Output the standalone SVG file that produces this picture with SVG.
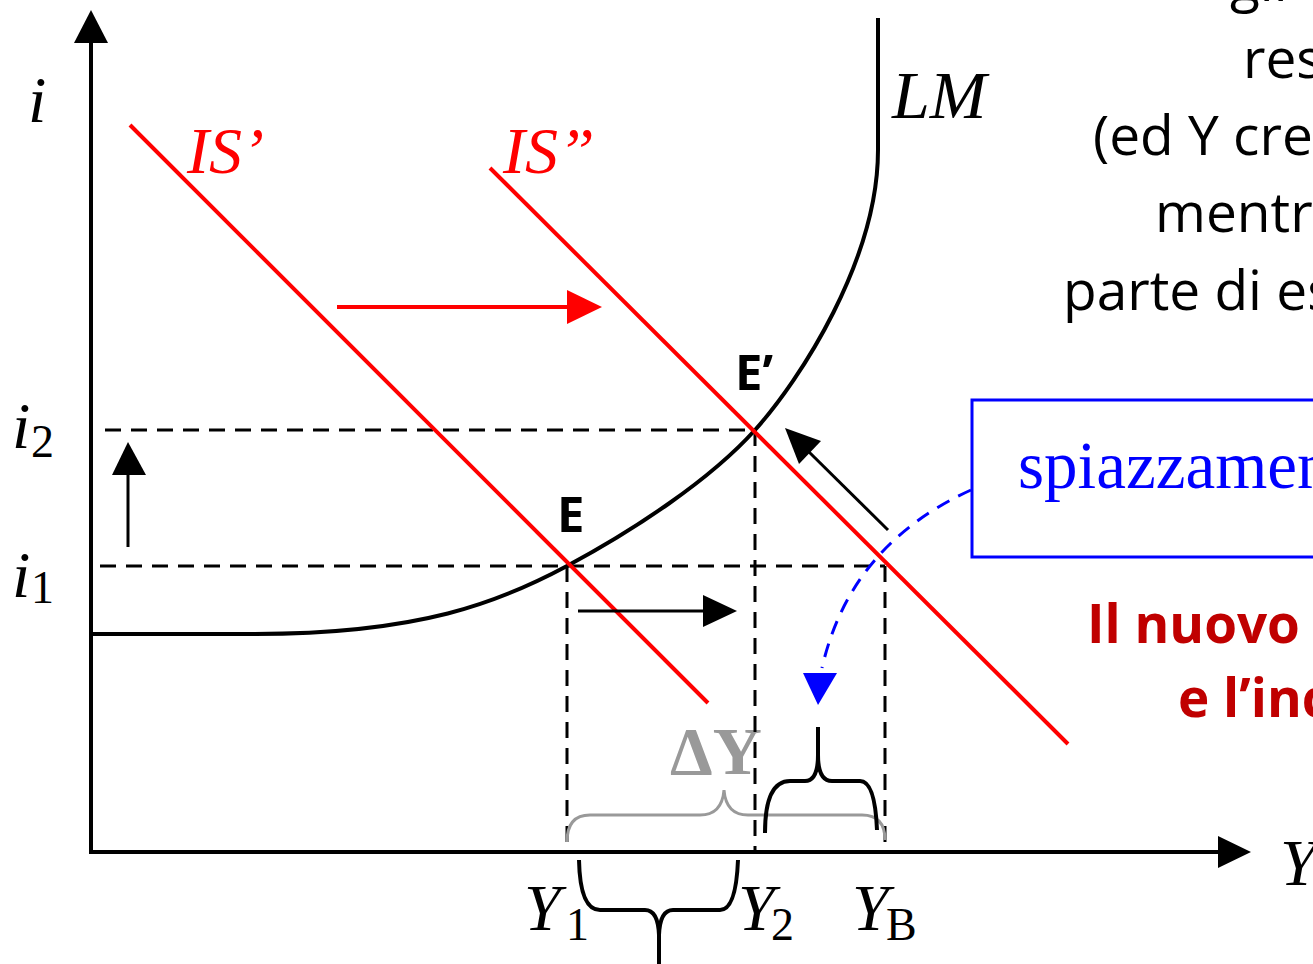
<svg xmlns="http://www.w3.org/2000/svg" width="1313" height="964" viewBox="0 0 1313 964">
<style>
.ax{stroke:#000;stroke-width:4;fill:none}
.red{stroke:#ff0000;stroke-width:4;fill:none}
.dash{stroke:#000;stroke-width:3;stroke-dasharray:16 10;fill:none}
.blk{stroke:#000;stroke-width:3;fill:none}
.math{font-family:"Liberation Serif","Times New Roman",serif;font-style:italic}
.cal{font-family:"Open Sans","Liberation Sans",sans-serif}
.sub{font-style:normal;font-size:46px}
</style>
<rect width="1313" height="964" fill="#fff"/>
<g id="top-text" class="cal" font-size="55" fill="#000">
<text x="1230" y="1">gli</text>
<text x="1243" y="78">res</text>
<text x="1093" y="155">(ed Y cre</text>
<text x="1155" y="232">mentr</text>
<text x="1063" y="310">parte di es</text>
</g>
<g id="delta-y-label">
<text x="670" y="774" font-family="Liberation Serif,serif" font-weight="bold" font-size="68" fill="#999">ΔY</text>
</g>
<g id="axes">
<line class="ax" x1="91" y1="40" x2="91" y2="852"/>
<polygon points="91,10 74,43 108,43" fill="#000"/>
<line class="ax" x1="89" y1="852" x2="1222" y2="852"/>
<polygon points="1251,852 1218,836 1218,868" fill="#000"/>
<text class="math" x="28" y="122" font-size="66">i</text>
<text class="math" x="1280" y="885" font-size="66">Y</text>
</g>
<g id="guides">
<line class="dash" x1="105" y1="430" x2="755" y2="430"/>
<line class="dash" x1="100" y1="566" x2="885" y2="566"/>
<line class="dash" x1="567" y1="566" x2="567" y2="852"/>
<line class="dash" x1="755" y1="430" x2="755" y2="852"/>
<line class="dash" x1="885" y1="566" x2="885" y2="852"/>
</g>
<g id="LM">
<path class="ax" d="M91 634 L255 634 C420 634 500 602 567 566 C634 530 710 480 755 430 C800 380 878 260 878 150 L878 18"/>
<text class="math" x="892" y="118" font-size="68">LM</text>
</g>
<g id="IS1">
<line class="red" x1="130" y1="125" x2="708" y2="703"/>
<text class="math" x="187" y="173" font-size="66" fill="#ff0000">IS’</text>
</g>
<g id="IS2">
<line class="red" x1="490" y1="168" x2="1068" y2="744"/>
<text class="math" x="503" y="173" font-size="66" fill="#ff0000">IS”</text>
</g>
<g id="connectors">
<line x1="337" y1="307" x2="570" y2="307" stroke="#ff0000" stroke-width="4"/>
<polygon points="602,307 567,290 567,324" fill="#ff0000"/>
<line class="blk" x1="128" y1="547" x2="128" y2="472"/>
<polygon points="128,442 112,475 146,475" fill="#000"/>
<line class="blk" x1="578" y1="611" x2="706" y2="611"/>
<polygon points="737,611 703,595 703,627" fill="#000"/>
<line class="blk" x1="888" y1="530" x2="807" y2="450"/>
<polygon points="785,428 821,441 799,464" fill="#000"/>
<path d="M971 490 Q850 545 822 668" stroke="#0000ff" stroke-width="3" stroke-dasharray="14 10" fill="none"/>
<polygon points="803,673 837,673 818,705" fill="#0000ff"/>
</g>
<g id="braces">
<path d="M567 842 Q567 815 590 815 L700 815 Q722 815 724 790 Q726 815 748 815 L862 815 Q885 815 885 840" stroke="#999" stroke-width="3" fill="none"/>
<path d="M765 833 Q765 781 790 781 L805 781 Q818 781 818 755 L818 727 M818 755 Q818 781 832 781 L860 781 Q875 781 877 830" stroke="#000" stroke-width="4" fill="none"/>
<path d="M579 860 Q580 910 600 910 L645 910 Q658 910 659 935 L659 964 M659 935 Q660 910 673 910 L720 910 Q736 910 738 860" stroke="#000" stroke-width="4" fill="none"/>
</g>
<g id="points" class="cal" font-weight="bold" font-size="49" fill="#000">
<text x="557" y="532">E</text>
<text x="735" y="390">E’</text>
</g>
<g id="axis-labels" class="math" font-size="66">
<text x="12" y="448">i</text><text class="sub" x="31" y="457">2</text>
<text x="12" y="597">i</text><text class="sub" x="31" y="603">1</text>
<text x="524" y="930">Y</text><text class="sub" x="566" y="940">1</text>
<text x="738" y="930">Y</text><text class="sub" x="771" y="940">2</text>
<text x="852" y="930">Y</text><text class="sub" x="886" y="940">B</text>
</g>
<g id="box">
<rect x="972" y="400" width="400" height="157" fill="none" stroke="#0000ff" stroke-width="3"/>
<text x="1018" y="488" font-family="Liberation Serif,serif" font-size="67" fill="#0000ff">spiazzamen</text>
</g>
<g id="note" class="cal" font-weight="bold" font-size="53" fill="#c00000">
<text x="1087" y="643">Il nuovo</text>
<text x="1178" y="717">e l’inc</text>
</g>
</svg>
